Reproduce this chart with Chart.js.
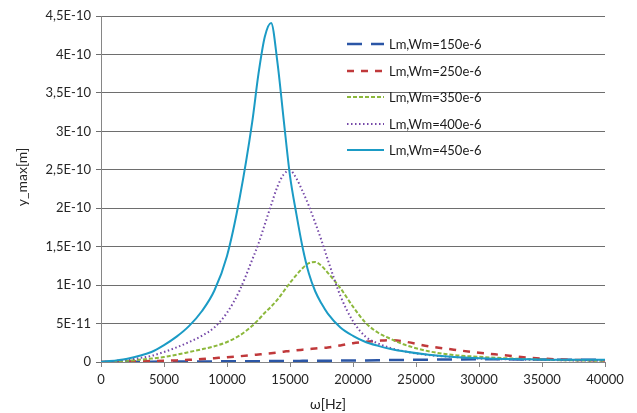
<!DOCTYPE html>
<html>
<head>
<meta charset="utf-8">
<script src="https://cdn.jsdelivr.net/npm/chart.js@4/dist/chart.umd.min.js"></script>
<style>
  html, body { margin: 0; padding: 0; background: #fff; }
  #wrap { width: 637px; height: 413px; }
</style>
</head>
<body>
<div id="wrap"><canvas id="canvas"></canvas></div>
<script>
// frequency samples [Hz]
const freq = [0, 2000, 4000, 5000, 6000, 7000, 8000, 9000, 10000, 11000, 12000, 12500, 13000, 13500,
              14000, 14500, 15000, 15500, 16000, 16500, 17000, 17500, 18000, 19000, 20000, 21000, 22000,
              23000, 24000, 26000, 28000, 30000, 32000, 34000, 36000, 38000, 40000];

// y_max in units of 1E-11 m
const wm150 = [0, 0.02, 0.04, 0.05, 0.06, 0.07, 0.08, 0.08, 0.09, 0.1, 0.11, 0.11, 0.12, 0.12,
               0.13, 0.13, 0.14, 0.14, 0.15, 0.15, 0.16, 0.16, 0.17, 0.18, 0.19, 0.21, 0.23,
               0.25, 0.27, 0.3, 0.33, 0.35, 0.35, 0.33, 0.31, 0.29, 0.27];
const wm250 = [0, 0.05, 0.12, 0.16, 0.21, 0.28, 0.38, 0.5, 0.62, 0.75, 0.9, 0.98, 1.06, 1.15,
               1.24, 1.34, 1.45, 1.52, 1.6, 1.68, 1.75, 1.83, 1.9, 2.15, 2.45, 2.62, 2.76,
               2.85, 2.68, 2.05, 1.6, 1.2, 0.88, 0.55, 0.36, 0.26, 0.2];
const wm350 = [0, 0.15, 0.45, 0.65, 0.95, 1.3, 1.65, 2.05, 2.6, 3.45, 4.7, 5.5, 6.4, 7.2,
               8.1, 9.2, 10.3, 11.3, 12.2, 12.85, 13.0, 12.5, 11.6, 9.6, 7.2, 5.1, 3.8,
               3.0, 2.3, 1.4, 0.9, 0.68, 0.5, 0.36, 0.26, 0.2, 0.14];
const wm400 = [0, 0.3, 0.8, 1.3, 1.9, 2.6, 3.4, 4.5, 6.4, 9.3, 13.3, 15.4, 17.9, 20.4,
               22.8, 24.4, 24.9, 23.9, 22.2, 20.3, 18.1, 15.8, 13.3, 8.6, 5.3, 3.3, 2.4,
               1.8, 1.4, 0.9, 0.65, 0.45, 0.35, 0.3, 0.25, 0.2, 0.2];
const wm450 = [0, 0.4, 1.3, 2.2, 3.3, 4.7, 6.6, 9.3, 13.8, 21.3, 31.2, 37.5, 42.3, 44.1,
               39.0, 31.5, 24.2, 19.3, 14.9, 11.5, 9.2, 7.6, 6.3, 4.5, 3.4, 2.6, 2.1,
               1.7, 1.4, 0.95, 0.65, 0.5, 0.4, 0.35, 0.3, 0.3, 0.3];

const seriesLabels = ['Lm,Wm=150e-6', 'Lm,Wm=250e-6', 'Lm,Wm=350e-6', 'Lm,Wm=400e-6', 'Lm,Wm=450e-6'];
const xTicks = [0, 5000, 10000, 15000, 20000, 25000, 30000, 35000, 40000];
const yTickLabels = ['0', '5E-11', '1E-10', '1,5E-10', '2E-10', '2,5E-10', '3E-10', '3,5E-10', '4E-10', '4,5E-10'];
const xTitle = 'ω[Hz]';
const yTitle = 'y_max[m]';

const styles = [
    { color: '#2b56a6', dash: [15, 9], width: 2.5 },
    { color: '#c0393b', dash: [7, 7], width: 2.5 },
    { color: '#8cb83c', dash: [4, 2], width: 2 },
    { color: '#7548a8', dash: [1.5, 2.5], width: 2 },
    { color: '#1b9bc5', dash: [], width: 2 }
];

const FONT = 'Lato, "Open Sans", sans-serif';

const toPoints = arr => arr.map((v, i) => ({ x: freq[i], y: v * 1e-11 }));

const datasets = [wm150, wm250, wm350, wm400, wm450].map((arr, i) => ({
    label: seriesLabels[i],
    data: toPoints(arr),
    borderColor: styles[i].color,
    borderWidth: styles[i].width,
    borderDash: styles[i].dash,
    pointRadius: 0,
    fill: false,
    cubicInterpolationMode: 'monotone',
    order: 4 - i
}));

// legend inside the plot area (no box) + axis titles
const decorations = {
    id: 'decorations',
    afterDraw(chart) {
        const ctx = chart.ctx;
        const x0 = 347, x1 = 384, rowY = [44, 71, 97, 124, 150];
        ctx.save();
        ctx.font = '13px ' + FONT;
        ctx.textBaseline = 'middle';
        chart.data.datasets.forEach((ds, i) => {
            ctx.beginPath();
            ctx.strokeStyle = ds.borderColor;
            ctx.lineWidth = ds.borderWidth;
            ctx.setLineDash(ds.borderDash);
            ctx.moveTo(x0, rowY[i]);
            ctx.lineTo(x1, rowY[i]);
            ctx.stroke();
            ctx.setLineDash([]);
            ctx.fillStyle = '#1a1a1a';
            ctx.fillText(ds.label, x1 + 5, rowY[i] + 1);
        });

        ctx.fillStyle = '#262626';
        ctx.font = '14px ' + FONT;
        ctx.textAlign = 'center';
        ctx.fillText(xTitle, 328, 404);
        ctx.translate(22, 177);
        ctx.rotate(-Math.PI / 2);
        ctx.fillText(yTitle, 0, 0);
        ctx.restore();
    }
};

Chart.defaults.font.family = FONT;
Chart.defaults.color = '#262626';

new Chart(document.querySelector('#canvas'), {
    type: 'line',
    data: { datasets: datasets },
    options: {
        responsive: true,
        maintainAspectRatio: false,
        animation: false,
        layout: { padding: { top: 16, right: 32 } },
        plugins: { legend: { display: false }, tooltip: { enabled: false } },
        scales: {
            x: {
                type: 'linear',
                min: 0,
                max: 40000,
                afterBuildTicks: scale => { scale.ticks = xTicks.map(v => ({ value: v })); },
                afterFit: scale => { scale.height = 51; },
                ticks: { font: { size: 13 }, padding: 5, maxRotation: 0, callback: v => String(v) },
                grid: { drawOnChartArea: false, drawTicks: true, tickLength: 5, color: '#868686' },
                border: { color: '#868686' }
            },
            y: {
                min: 0,
                max: 4.5e-10,
                afterBuildTicks: scale => { scale.ticks = yTickLabels.map((t, i) => ({ value: i * 5e-11 })); },
                afterFit: scale => { scale.width = 101; },
                ticks: { font: { size: 13 }, padding: 5, callback: (v, i) => yTickLabels[i] },
                grid: { color: '#6e6e6e', tickLength: 5 },
                border: { color: '#868686' }
            }
        }
    },
    plugins: [decorations]
});
</script>
</body>
</html>
